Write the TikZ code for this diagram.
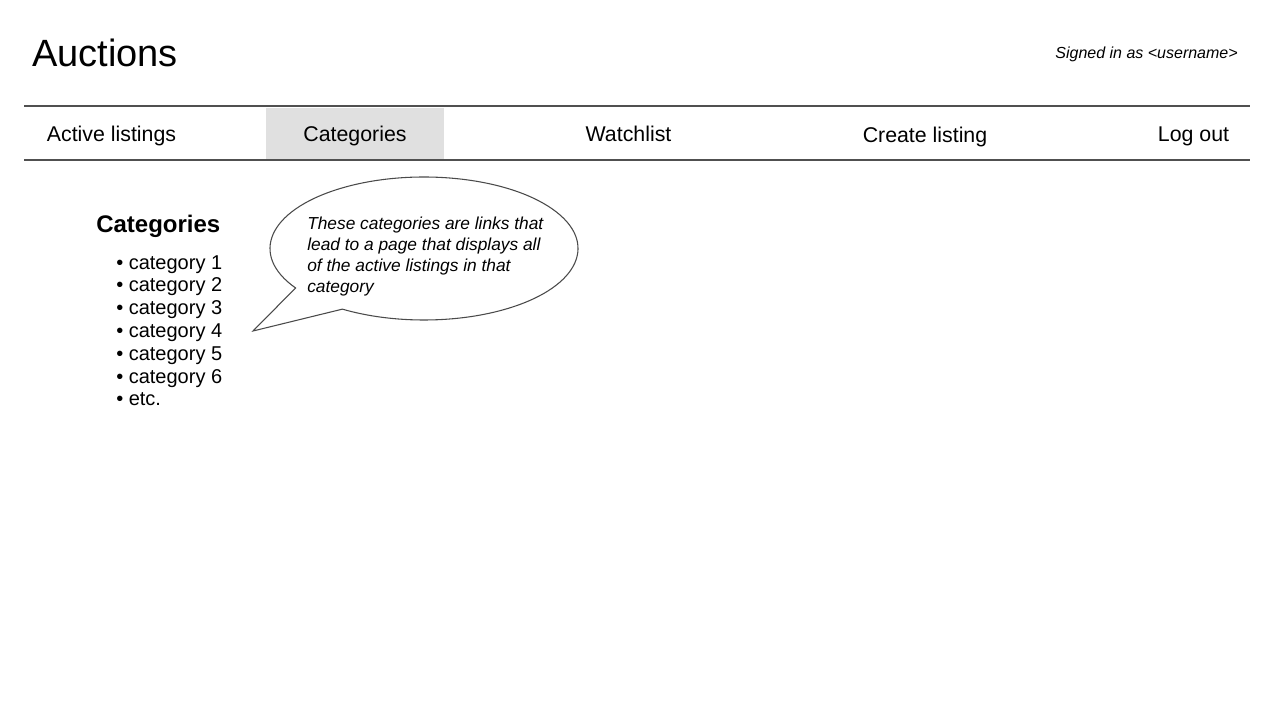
\documentclass[tikz,border=0pt]{standalone}
\usepackage{fontspec}
\setmainfont{Liberation Sans}
\usepackage{xcolor}
\usetikzlibrary{positioning}

\definecolor{tabgray}{HTML}{E0E0E0}
\definecolor{rulegray}{HTML}{505050}
\definecolor{bubblegray}{HTML}{4A4A4A}

\tikzset{
  navtext/.style={anchor=base, inner sep=0pt, font=\fontsize{16}{19}\selectfont},
  itemtext/.style={anchor=base west, inner sep=0pt, font=\fontsize{15}{18}\selectfont},
  navrule/.style={draw=rulegray, line width=1.1pt},
}

\begin{document}
\begin{tikzpicture}[x=0.75pt, y=-0.75pt]
            \useasboundingbox (0, 0) rectangle (1280, 720);

            % header
            \node[anchor=base west, inner sep=0pt, font=\fontsize{28.5}{34}\selectfont] (title) at (32, 67) {Auctions};
            \node[anchor=base east, inner sep=0pt, font=\fontsize{12}{14}\selectfont\itshape] (user) at (1238, 59) {Signed in as <username>};

            % nav bar
            \fill[tabgray] (266, 108) rectangle (444, 159);
            \coordinate (navtopL) at (24, 106);
            \coordinate (navtopR) at (1250, 106);
            \coordinate (navbotL) at (24, 160);
            \coordinate (navbotR) at (1250, 160);
            \draw[navrule] (navtopL) -- (navtopR);
            \draw[navrule] (navbotL) -- (navbotR);

            \node[navtext] (active) at (111.5, 141.5) {Active listings};
            \node[navtext] (cats) at (355, 141.5) {Categories};
            \node[navtext] (watch) at (628.5, 141.5) {Watchlist};
            \node[navtext] (create) at (925, 142.5) {Create listing};
            \node[navtext] (logout) at (1193.5, 141.5) {Log out};

            % category list
            \node[anchor=base west, inner sep=0pt, font=\fontsize{18}{21}\selectfont\bfseries] (head) at (96, 232.5) {Categories};
            \node[itemtext] (cat1) at (116, 269) {• category 1};
            \node[itemtext] (cat2) at (116, 291.8) {• category 2};
            \node[itemtext] (cat3) at (116, 314.6) {• category 3};
            \node[itemtext] (cat4) at (116, 337.4) {• category 4};
            \node[itemtext] (cat5) at (116, 360.2) {• category 5};
            \node[itemtext] (cat6) at (116, 383) {• category 6};
            \node[itemtext] (etc) at (116, 405.8) {• etc.};

            % speech bubble
            \coordinate (bubble) at (424, 248.5);
            \coordinate (tip) at (253, 331);
            \draw[bubblegray, line width=0.8pt, line join=miter]
                ([shift={(146.5:154 and 71.5)}]bubble) arc[start angle=146.5, end angle=482, x radius=154, y radius=71.5] -- (tip) -- cycle;
            \node[anchor=base west, inner sep=0pt, align=left, font=\fontsize{13}{15.75}\selectfont\itshape] (note) at (307, 292)
                {These categories are links that\\lead to a page that displays all\\of the active listings in that\\category};
        \end{tikzpicture}
\end{document}
